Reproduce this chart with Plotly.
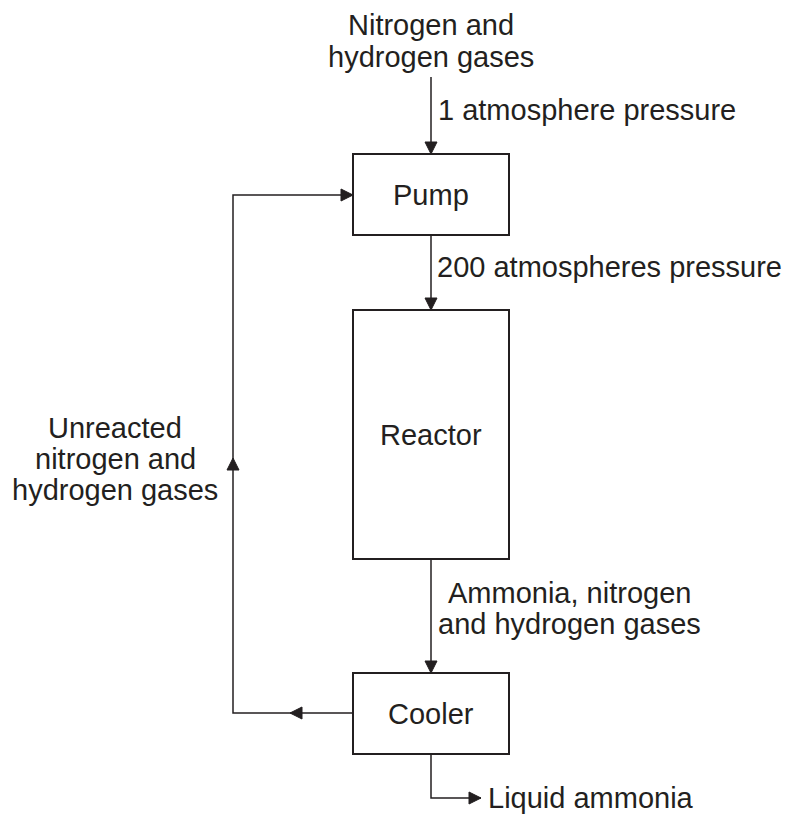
import plotly.graph_objects as go

# ---- diagram content ----
box_labels = ["Pump", "Reactor", "Cooler"]
flow_labels = ["1 atmosphere pressure", "200 atmospheres pressure",
               "Ammonia, nitrogen", "and hydrogen gases"]
feed_label = ["Nitrogen and", "hydrogen gases"]
recycle_label = ["Unreacted", "nitrogen and", "hydrogen gases"]
product_label = ["Liquid ammonia"]

# ---- layout (pixel coordinates of the page) ----
W, H = 790, 814
OFF = 8  # page body margin
INK = "#231f20"
FONT = dict(family="Liberation Sans, Arial, sans-serif", size=29, color=INK)

boxes = {  # x0, y0, x1, y1
    "Pump": (353, 154, 509, 235),
    "Reactor": (353, 310, 509, 559),
    "Cooler": (353, 673, 509, 754),
}
cx = 431
loop_x = 233
loop_top = 195
cool_mid = 713
prod_y = 798
prod_tip = 481

fig = go.Figure()
shapes = []
annotations = []

for name in box_labels:
    x0, y0, x1, y1 = boxes[name]
    shapes.append(dict(type="rect", x0=x0, y0=y0, x1=x1, y1=y1,
                       line=dict(color=INK, width=2), fillcolor="rgba(0,0,0,0)"))
    annotations.append(dict(x=(x0 + x1) / 2, y=(y0 + y1) / 2, text=name,
                            showarrow=False, font=FONT, xanchor="center", yanchor="middle"))


def line(pts):
    path = "M " + " L ".join(f"{x},{y}" for x, y in pts)
    shapes.append(dict(type="path", path=path, line=dict(color=INK, width=1.5)))


def head(tx, ty, d, L=12, Wd=6):
    dx, dy = {"down": (0, 1), "up": (0, -1), "left": (-1, 0), "right": (1, 0)}[d]
    bx, by = tx - dx * L, ty - dy * L
    px, py = -dy, dx
    path = (f"M {tx},{ty} L {bx + px * Wd},{by + py * Wd} "
            f"L {bx - px * Wd},{by - py * Wd} Z")
    shapes.append(dict(type="path", path=path, fillcolor=INK,
                       line=dict(color=INK, width=1)))


# feed -> pump
line([(cx, 77), (cx, 154)]); head(cx, 154, "down")
# pump -> reactor
line([(cx, 235), (cx, 310)]); head(cx, 310, "down")
# reactor -> cooler
line([(cx, 559), (cx, 673)]); head(cx, 673, "down")
# recycle loop
line([(353, cool_mid), (loop_x, cool_mid), (loop_x, loop_top), (353, loop_top)])
head(290, cool_mid, "left")
head(loop_x, 458, "up")
head(353, loop_top, "right")
# product
line([(cx, 754), (cx, prod_y), (prod_tip, prod_y)])
head(prod_tip, prod_y, "right")


def text(x, y, t, anchor="center"):
    annotations.append(dict(x=x, y=y, text=t, showarrow=False, font=FONT,
                            xanchor=anchor, yanchor="middle"))


for t, y in zip(feed_label, [25, 57]):
    text(cx, y, t)
text(436, 110, flow_labels[0], "left")
text(435, 267, flow_labels[1], "left")
text(569, 593, flow_labels[2])
text(569, 624, flow_labels[3])
for t, y in zip(recycle_label, [428, 459, 490]):
    text(115, y, t)
text(486, prod_y, product_label[0], "left")

fig.update_layout(
    width=W - OFF, height=H - OFF, margin=dict(l=0, r=0, t=0, b=0),
    paper_bgcolor="white", plot_bgcolor="white",
    xaxis=dict(range=[OFF, W], visible=False, fixedrange=True),
    yaxis=dict(range=[H, OFF], visible=False, fixedrange=True),
    shapes=shapes, annotations=annotations, showlegend=False,
)
fig.write_html("out.html")
